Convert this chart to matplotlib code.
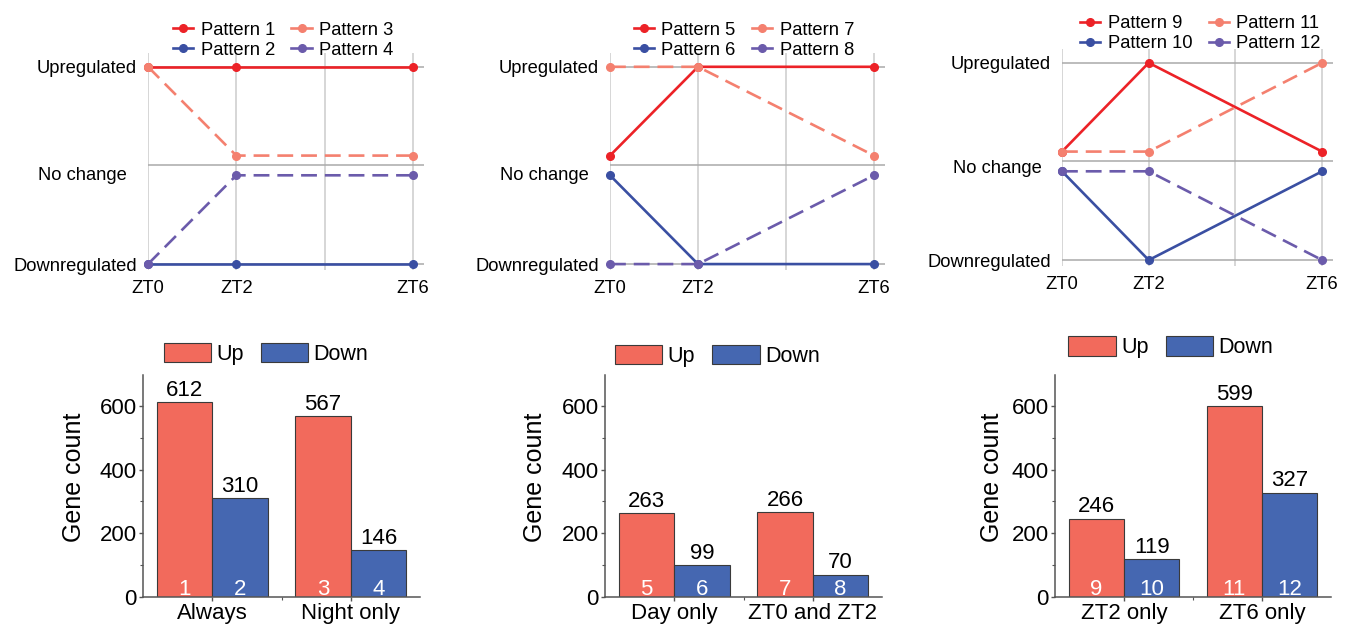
import matplotlib
matplotlib.use('Agg')
import matplotlib.pyplot as plt
from matplotlib.lines import Line2D
from matplotlib.patches import Patch
from matplotlib.ticker import FixedLocator

plt.rcParams['font.family'] = ['Liberation Sans', 'DejaVu Sans']

# ---- data ----
TIME_POINTS = [0, 2, 6]
TIME_LABELS = ['ZT0', 'ZT2', 'ZT6']
LEVEL_LABELS = ['Upregulated', 'No change', 'Downregulated']

# expression level at ZT0, ZT2, ZT6 (1 up, -1 down, +/-0.1 no change)
patterns_a = [[1, 1, 1], [-1, -1, -1], [1, 0.1, 0.1], [-1, -0.1, -0.1]]        # 1-4
patterns_b = [[0.1, 1, 1], [-0.1, -1, -1], [1, 1, 0.1], [-1, -1, -0.1]]        # 5-8
patterns_c = [[0.1, 1, 0.1], [-0.1, -1, -0.1], [0.1, 0.1, 1], [-0.1, -0.1, -1]]  # 9-12
pattern_ids = [[1, 2, 3, 4], [5, 6, 7, 8], [9, 10, 11, 12]]

groups_a = ['Always', 'Night only']
up_a = [612, 567]
down_a = [310, 146]
groups_b = ['Day only', 'ZT0 and ZT2']
up_b = [263, 266]
down_b = [99, 70]
groups_c = ['ZT2 only', 'ZT6 only']
up_c = [246, 599]
down_c = [119, 327]

LINE_COLORS = ['#ec2227', '#3a4fa2', '#f4806f', '#6b5bab']
LINE_STYLES = ['-', '-', (0, (6, 3)), (0, (6, 3))]
UP_COLOR = '#f26a5c'
DOWN_COLOR = '#4567b1'

W, H = 1346, 625
fig = plt.figure(figsize=(W / 100, H / 100), dpi=100)


def px_axes(left, top, right, bottom):
    return fig.add_axes([left / W, 1 - bottom / H, (right - left) / W, (bottom - top) / H])


def pattern_panel(ax, patterns, ids, leg_x, leg_y, nochange_y):
    ax.set_xlim(0, 6.25)
    ax.set_ylim(-1.06, 1.14)
    for x in [0, 2, 4, 6]:
        ax.axvline(x, color='#cccccc', lw=1.1, zorder=0)
    for y in [-1, 0, 1]:
        ax.axhline(y, color='#aaaaaa', lw=1.1, zorder=0)
    handles = []
    for vals, pid, c, ls in zip(patterns, ids, LINE_COLORS, LINE_STYLES):
        ax.plot(TIME_POINTS, vals, color=c, ls=ls, lw=1.9, marker='o', ms=5.5,
                clip_on=False, zorder=3)
        handles.append(Line2D([], [], color=c, lw=1.9, marker='o', ms=5.5,
                              label=f'Pattern {pid}'))
    for s in ax.spines.values():
        s.set_visible(False)
    ax.set_xticks(TIME_POINTS)
    ax.set_xticklabels(TIME_LABELS)
    ax.set_yticks([1, -1])
    ax.set_yticklabels([LEVEL_LABELS[0], LEVEL_LABELS[2]])
    ax.tick_params(length=0, labelsize=13.2, pad=7)
    ax.tick_params(axis='y', pad=8)
    ax.text(-0.075, nochange_y, LEVEL_LABELS[1], transform=ax.get_yaxis_transform(),
            ha='right', va='center', fontsize=13.2)
    ax.legend(handles=handles, ncol=2, loc='center', bbox_to_anchor=(leg_x, leg_y),
              frameon=False, fontsize=13.2, handlelength=1.1, handletextpad=0.4,
              columnspacing=0.9, labelspacing=0.15, borderpad=0)


def bar_panel(ax, groups, up, down, start_id, leg_x, leg_y, ylab_x):
    xs = list(range(len(groups)))
    up_bars = ax.bar([x - 0.2 for x in xs], up, width=0.4, color=UP_COLOR,
                     edgecolor='#3a3a3a', lw=0.8)
    down_bars = ax.bar([x + 0.2 for x in xs], down, width=0.4, color=DOWN_COLOR,
                       edgecolor='#3a3a3a', lw=0.8)
    ax.set_xlim(-0.5, 1.5)
    ax.set_ylim(0, 697)
    for i, (ub, db) in enumerate(zip(up_bars, down_bars)):
        for b, num in [(ub, start_id + 2 * i), (db, start_id + 2 * i + 1)]:
            cx = b.get_x() + b.get_width() / 2
            ax.annotate(str(int(b.get_height())), (cx, b.get_height()),
                        xytext=(0, 1), textcoords='offset points',
                        ha='center', va='bottom', fontsize=16)
            ax.annotate(str(num), (cx, 0), xytext=(0, 1.5), textcoords='offset points',
                        ha='center', va='baseline', fontsize=16, color='white')
    for side in ['top', 'right']:
        ax.spines[side].set_visible(False)
    for side in ['left', 'bottom']:
        ax.spines[side].set_color('#555555')
        ax.spines[side].set_linewidth(1.1)
    ax.set_xticks(xs)
    ax.set_xticklabels(groups)
    ax.xaxis.set_minor_locator(FixedLocator([0.5]))
    ax.set_yticks([0, 200, 400, 600])
    ax.yaxis.set_minor_locator(FixedLocator([100, 300, 500]))
    ax.tick_params(which='major', length=3, width=1, color='#555555', labelsize=16)
    ax.tick_params(axis='x', which='major', pad=1)
    ax.tick_params(axis='y', which='major', pad=1.5)
    ax.tick_params(which='minor', length=2, width=0.8, color='#555555')
    ax.set_ylabel('Gene count', fontsize=18)
    ax.yaxis.set_label_coords(ylab_x, 0.54)
    handles = [Patch(facecolor=UP_COLOR, edgecolor='#3a3a3a', lw=0.8, label='Up'),
               Patch(facecolor=DOWN_COLOR, edgecolor='#3a3a3a', lw=0.8, label='Down')]
    ax.legend(handles=handles, ncol=2, loc='center', bbox_to_anchor=(leg_x, leg_y),
              frameon=False, fontsize=15.5, handlelength=2.2, handleheight=1.0,
              handletextpad=0.25, columnspacing=0.8, borderpad=0)


# top row: expression patterns
t1 = px_axes(148, 53, 424, 270)
t2 = px_axes(610, 53, 885, 270)
t3 = px_axes(1062, 49, 1333, 266)
pattern_panel(t1, patterns_a, pattern_ids[0], 0.49, 1.059, -0.1)
pattern_panel(t2, patterns_b, pattern_ids[1], 0.487, 1.059, -0.1)
pattern_panel(t3, patterns_c, pattern_ids[2], 0.51, 1.071, -0.07)

# bottom row: gene counts
b1 = px_axes(143, 375, 420, 597)
b2 = px_axes(605, 375, 882, 597)
b3 = px_axes(1055, 375, 1331, 597)
bar_panel(b1, groups_a, up_a, down_a, 1, 0.444, 1.094, -0.205)
bar_panel(b2, groups_b, up_b, down_b, 5, 0.406, 1.085, -0.21)
bar_panel(b3, groups_c, up_c, down_c, 9, 0.42, 1.125, -0.185)

fig.savefig('out.png', dpi=100)
